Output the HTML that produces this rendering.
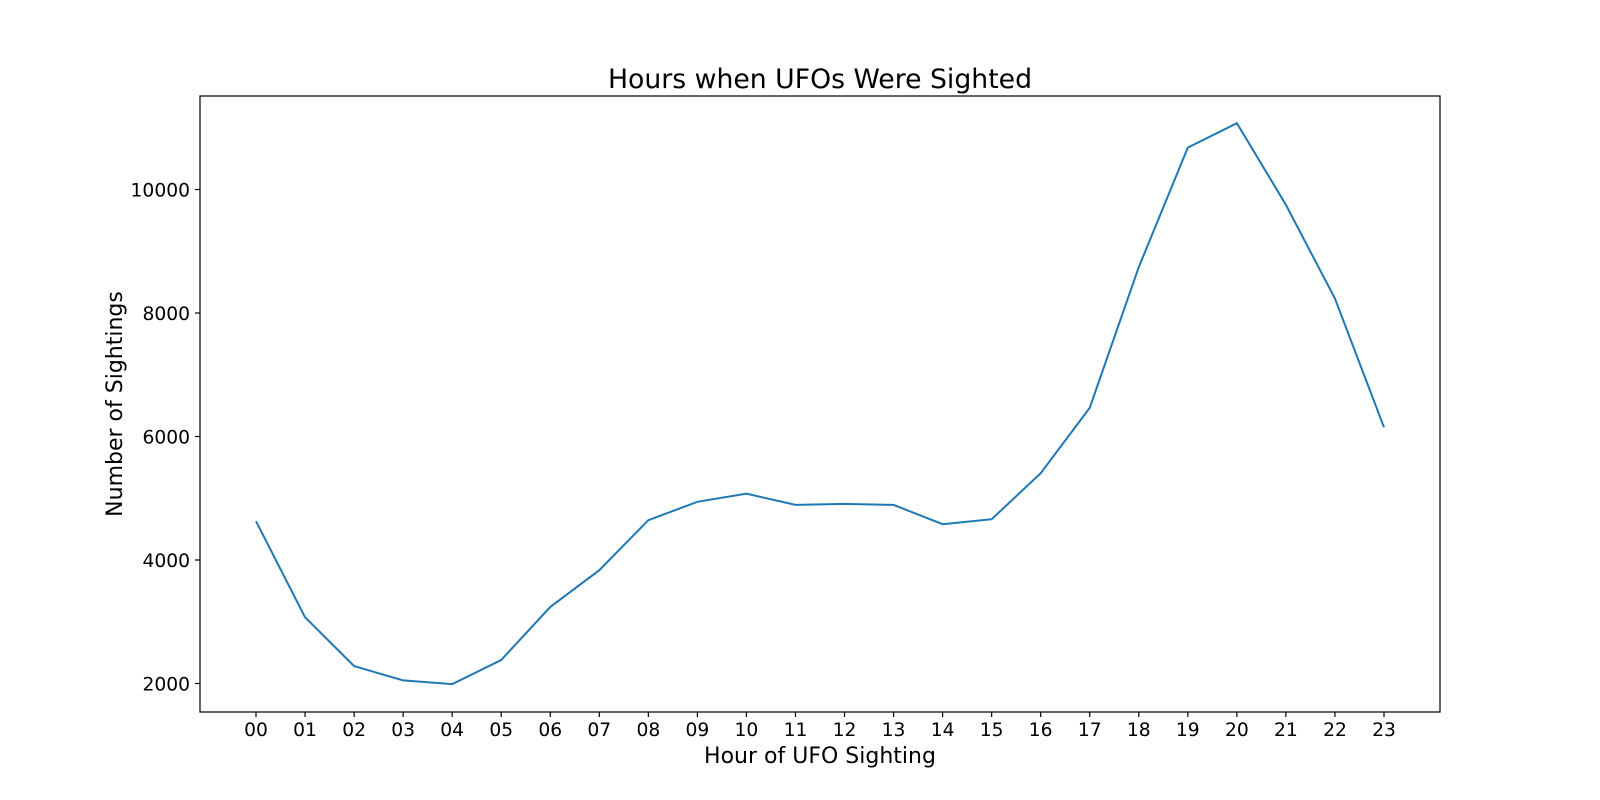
<!DOCTYPE html>
<html><head><meta charset="utf-8"><style>
html,body{margin:0;padding:0;background:#fff;}
svg{display:block;font-family:"DejaVu Sans","Liberation Sans",sans-serif;}
</style></head><body>
<svg id="chart" width="1600" height="800" viewBox="0 0 1600 800">
<rect width="1600" height="800" fill="#fff"/>
<text x="820" y="88" text-anchor="middle" font-size="26.7">Hours when UFOs Were Sighted</text>
<text x="820" y="763" text-anchor="middle" font-size="22">Hour of UFO Sighting</text>
<text transform="translate(122,404) rotate(-90)" text-anchor="middle" font-size="22">Number of Sightings</text>
<g id="ticks"></g>
<path id="line" fill="none" stroke="#1f77b4" stroke-width="2"/>
<rect x="200" y="96" width="1240" height="616" fill="none" stroke="#000" stroke-width="1.2"/>
</svg>
<script>
const hours = ["00","01","02","03","04","05","06","07","08","09","10","11","12","13","14","15","16","17","18","19","20","21","22","23"];
const sightings = [4628,3074,2281,2050,1990,2380,3240,3835,4645,4942,5074,4893,4909,4893,4579,4661,5405,6463,8744,10678,11074,9752,8231,6149];
const yTicks = [2000,4000,6000,8000,10000];
const NS="http://www.w3.org/2000/svg";
const xScale = i => 256 + i*(1384-256)/23;
const yScale = v => 683.5 - (v-2000)*(494/8000);
const g=document.getElementById('ticks');
function mk(tag,attrs,txt){const e=document.createElementNS(NS,tag);for(const k in attrs)e.setAttribute(k,attrs[k]);if(txt!==undefined)e.textContent=txt;g.appendChild(e);return e;}
hours.forEach((h,i)=>{
  const x=xScale(i);
  const t=mk('line',{x1:x,x2:x,y1:712,y2:717,stroke:'#000','stroke-width':1.2});
  
  
  const l=mk('text',{x:x,y:736,'text-anchor':'middle','font-size':'18.7'},h);
  
  
});
yTicks.forEach(v=>{
  const y=yScale(v);
  const t=mk('line',{x1:195,x2:200,y1:y,y2:y,stroke:'#000','stroke-width':1.2});
  
  
  const l=mk('text',{x:190,y:y+7,'text-anchor':'end','font-size':'18.7'},String(v));
  
  
});
document.getElementById('line').setAttribute('d',sightings.map((v,i)=>(i?'L':'M')+xScale(i).toFixed(1)+','+yScale(v).toFixed(1)).join(' '));
</script>
</body></html>
